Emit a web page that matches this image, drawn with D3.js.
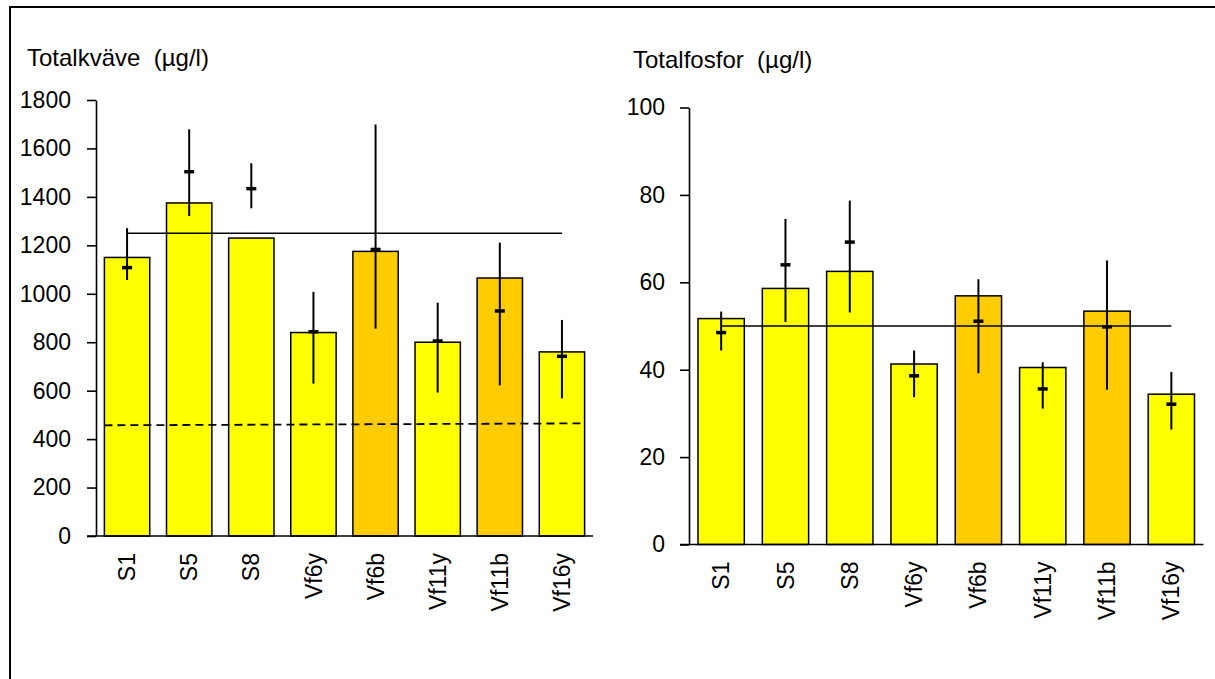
<!DOCTYPE html>
<html>
<head>
<meta charset="utf-8">
<script src="https://cdn.jsdelivr.net/npm/d3@7"></script>
<style>
  html, body { margin: 0; padding: 0; background: #fff; }
  svg { display: block; }
  text { font-family: "Liberation Sans", Arial, sans-serif; fill: #000; white-space: pre; }
</style>
</head>
<body>
<script>
// Sampling stations (shared by both panels)
const categories = ["S1", "S5", "S8", "Vf6y", "Vf6b", "Vf11y", "Vf11b", "Vf16y"];
// Fill group per station: "y" = yellow, "b" = amber
const fillGroups = ["y", "y", "y", "y", "b", "y", "b", "y"];

// Total nitrogen (µg/l)
const nitrogenBars = [1150, 1375, 1230, 840, 1175, 800, 1065, 760];
const nitrogenMean = [1108, 1504, 1434, 843, 1183, 805, 929, 742];
const nitrogenLow  = [1057, 1321, 1353, 629, 856, 592, 622, 568];
const nitrogenHigh = [1271, 1679, 1539, 1008, 1699, 963, 1211, 892];
const nitrogenLimit = 1250;
const nitrogenDashed = [457, 465];           // start / end of the dashed level line
const nitrogenTicks = [0, 200, 400, 600, 800, 1000, 1200, 1400, 1600, 1800];

// Total phosphorus (µg/l)
const phosphorusBars = [51.7, 58.6, 62.5, 41.3, 56.9, 40.5, 53.4, 34.4];
const phosphorusMean = [48.5, 64.0, 69.2, 38.6, 51.1, 35.6, 49.8, 32.1];
const phosphorusLow  = [44.4, 50.9, 53.1, 33.7, 39.2, 31.1, 35.4, 26.3];
const phosphorusHigh = [53.3, 74.5, 78.7, 44.4, 60.7, 41.7, 65.0, 39.5];
const phosphorusLimit = 50;
const phosphorusTicks = [0, 20, 40, 60, 80, 100];

const fillColour = { y: "#FFFF00", b: "#FFCC00" };
const FONT = "Liberation Sans, Arial, sans-serif";

const W = 1215, H = 679;
const svg = d3.select("body").append("svg").attr("width", W).attr("height", H);

// Outer frame (runs off the right and bottom edges)
svg.append("path")
  .attr("d", `M10,${H + 5} L10,7 L${W + 5},7`)
  .attr("fill", "none").attr("stroke", "#000").attr("stroke-width", 2);

function panel(cfg) {
  const g = svg.append("g");
  const y = d3.scaleLinear().domain([0, cfg.max]).range([cfg.y0, cfg.y1]);
  const x = d3.scaleBand().domain(categories).range([cfg.x0, cfg.x1])
    .paddingInner(cfg.pad).paddingOuter(cfg.pad / 2);

  // Title
  g.append("text").attr("x", cfg.titleX).attr("y", cfg.titleY)
    .attr("font-size", cfg.titleSize).text(cfg.title);

  const data = categories.map((c, i) => ({
    c, v: cfg.bars[i], m: cfg.mean[i], lo: cfg.low[i], hi: cfg.high[i], f: fillGroups[i]
  }));

  // Bars
  g.selectAll("rect.bar").data(data).join("rect")
    .attr("class", "bar")
    .attr("x", d => x(d.c)).attr("width", x.bandwidth())
    .attr("y", d => y(d.v)).attr("height", d => y(0) - y(d.v))
    .attr("fill", d => fillColour[d.f])
    .attr("stroke", "#000").attr("stroke-width", 1.5);

  // Y axis
  const yAxis = d3.axisLeft(y).tickValues(cfg.ticks).tickFormat(d3.format("d"))
    .tickSize(9).tickPadding(cfg.tickPad).tickSizeOuter(0);
  const ya = g.append("g").attr("transform", `translate(${cfg.x0},0)`).call(yAxis);
  ya.attr("font-size", cfg.fontSize).attr("font-family", FONT);
  ya.select(".domain").attr("stroke", "#000").attr("stroke-width", 1.6);
  ya.selectAll(".tick line").attr("stroke", "#000").attr("stroke-width", 1.6);
  ya.selectAll(".tick text").attr("fill", "#000");

  // X axis (baseline + rotated station names)
  const xAxis = d3.axisBottom(x).tickSize(0).tickPadding(0).tickSizeOuter(0);
  const xa = g.append("g").attr("transform", `translate(0,${cfg.y0})`).call(xAxis);
  xa.attr("font-size", cfg.fontSize).attr("font-family", FONT);
  xa.select(".domain").attr("stroke", "#000").attr("stroke-width", 1.6)
    .attr("d", `M${cfg.x0 - 9},0H${cfg.x1}`);
  xa.selectAll(".tick text")
    .attr("fill", "#000")
    .attr("text-anchor", "end")
    .attr("transform", `translate(0,${cfg.labelGap}) rotate(-90)`)
    .attr("x", 0).attr("y", 0).attr("dy", "0.35em");

  // Limit line from first to last station centre
  const cx = c => x(c) + x.bandwidth() / 2;
  g.append("line")
    .attr("x1", cx(categories[0])).attr("x2", cx(categories[categories.length - 1]))
    .attr("y1", y(cfg.limit)).attr("y2", y(cfg.limit))
    .attr("stroke", "#000").attr("stroke-width", 1.5);

  // Optional dashed level line spanning the bars
  if (cfg.dashed) {
    g.append("line")
      .attr("x1", x(categories[0])).attr("x2", x(categories[categories.length - 1]) + x.bandwidth())
      .attr("y1", y(cfg.dashed[0])).attr("y2", y(cfg.dashed[1]))
      .attr("stroke", "#000").attr("stroke-width", 1.8).attr("stroke-dasharray", "8,5");
  }

  // Range lines and mean markers
  g.selectAll("line.range").data(data).join("line")
    .attr("class", "range")
    .attr("x1", d => cx(d.c)).attr("x2", d => cx(d.c))
    .attr("y1", d => y(d.lo)).attr("y2", d => y(d.hi))
    .attr("stroke", "#000").attr("stroke-width", 2);
  g.selectAll("rect.mean").data(data).join("rect")
    .attr("class", "mean")
    .attr("x", d => cx(d.c) - 5).attr("width", 10)
    .attr("y", d => y(d.m) - 1.75).attr("height", 3.5)
    .attr("fill", "#000");
}

panel({
  title: "Totalkväve  (µg/l)", titleX: 27, titleY: 66, titleSize: 24, fontSize: 23,
  max: 1800, ticks: nitrogenTicks, y0: 536, y1: 100, x0: 96, x1: 593, pad: 0.27,
  tickPad: 16, labelGap: 17,
  bars: nitrogenBars, mean: nitrogenMean, low: nitrogenLow, high: nitrogenHigh,
  limit: nitrogenLimit, dashed: nitrogenDashed
});

panel({
  title: "Totalfosfor  (µg/l)", titleX: 633, titleY: 68, titleSize: 24, fontSize: 23,
  max: 100, ticks: phosphorusTicks, y0: 544.5, y1: 107.5, x0: 689, x1: 1203.5, pad: 0.28,
  tickPad: 15, labelGap: 17,
  bars: phosphorusBars, mean: phosphorusMean, low: phosphorusLow, high: phosphorusHigh,
  limit: phosphorusLimit, dashed: null
});
</script>
</body>
</html>
